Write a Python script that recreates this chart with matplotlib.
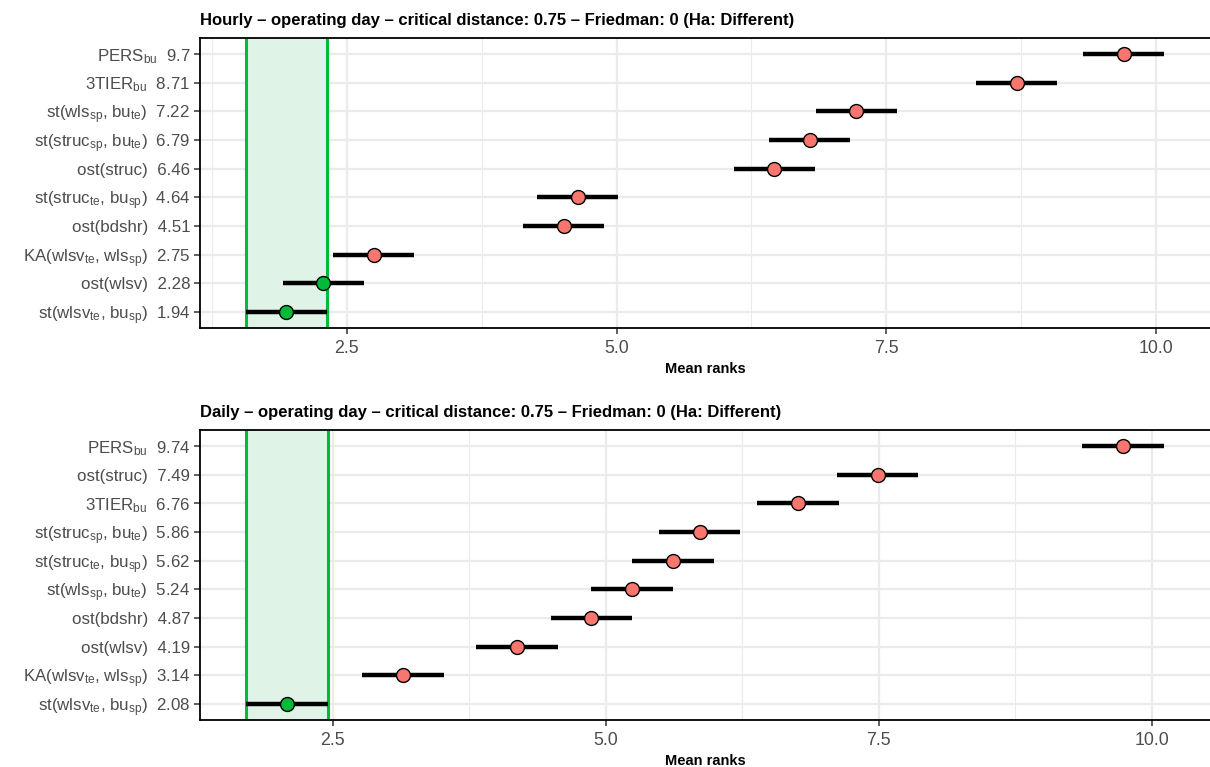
import matplotlib
matplotlib.use("Agg")
import matplotlib.pyplot as plt
from matplotlib.ticker import MultipleLocator

plt.rcParams['font.family'] = ['Liberation Sans', 'DejaVu Sans']
plt.rcParams['mathtext.fontset'] = 'custom'
plt.rcParams['mathtext.rm'] = 'Liberation Sans'
plt.rcParams['mathtext.default'] = 'regular'

cd = 0.75

hourly_names = [r"PERS$_{bu}$", r"3TIER$_{bu}$", r"st(wls$_{sp}$, bu$_{te}$)",
                r"st(struc$_{sp}$, bu$_{te}$)", "ost(struc)", r"st(struc$_{te}$, bu$_{sp}$)",
                "ost(bdshr)", r"KA(wlsv$_{te}$, wls$_{sp}$)", "ost(wlsv)",
                r"st(wlsv$_{te}$, bu$_{sp}$)"]
hourly_ranks = [9.7, 8.71, 7.22, 6.79, 6.46, 4.64, 4.51, 2.75, 2.28, 1.94]

daily_names = [r"PERS$_{bu}$", "ost(struc)", r"3TIER$_{bu}$", r"st(struc$_{sp}$, bu$_{te}$)",
               r"st(struc$_{te}$, bu$_{sp}$)", r"st(wls$_{sp}$, bu$_{te}$)", "ost(bdshr)",
               "ost(wlsv)", r"KA(wlsv$_{te}$, wls$_{sp}$)", r"st(wlsv$_{te}$, bu$_{sp}$)"]
daily_ranks = [9.74, 7.49, 6.76, 5.86, 5.62, 5.24, 4.87, 4.19, 3.14, 2.08]

titles = ["Hourly \u2013 operating day \u2013 critical distance: 0.75 \u2013 Friedman: 0 (Ha: Different)",
          "Daily \u2013 operating day \u2013 critical distance: 0.75 \u2013 Friedman: 0 (Ha: Different)"]

RED = "#F8766D"
GREEN = "#00BA38"

fig = plt.figure(figsize=(12.1, 7.67), dpi=100)
boxes = [[0.1653, 0.5724, 0.8347, 0.3781], [0.1653, 0.0613, 0.8347, 0.3781]]

for box, names, ranks, title in zip(boxes, [hourly_names, daily_names],
                                    [hourly_ranks, daily_ranks], titles):
    ax = fig.add_axes(box)
    n = len(ranks)
    ypos = list(range(n, 0, -1))
    best = min(ranks)
    lo = best - cd / 2
    hi = max(ranks) + cd / 2
    pad = (hi - lo) * 0.05
    ax.set_xlim(lo - pad, hi + pad)
    ax.set_ylim(0.44, n + 0.56)

    ax.axvspan(best - cd / 2, best + cd / 2, color="#DFF3E7", zorder=1, lw=0)
    ax.axvline(best - cd / 2, color=GREEN, lw=2.2, zorder=2)
    ax.axvline(best + cd / 2, color=GREEN, lw=2.2, zorder=2)

    for y, r in zip(ypos, ranks):
        col = GREEN if r <= best + cd else RED
        ax.plot([r - cd / 2, r + cd / 2], [y, y], color="black", lw=3.2,
                solid_capstyle="butt", zorder=3)
        ax.plot(r, y, "o", ms=10, mfc=col, mec="black", mew=1, zorder=4)

    ax.set_yticks(ypos)
    ax.set_yticklabels([f"{nm}  {r:g}" for nm, r in zip(names, ranks)])
    ax.xaxis.set_major_locator(MultipleLocator(2.5))
    ax.xaxis.set_minor_locator(MultipleLocator(1.25))
    ax.xaxis.set_major_formatter(plt.FuncFormatter(lambda v, p: f"{v:.1f}"))
    ax.grid(True, which="major", color="#EBEBEB", lw=1.6, zorder=0)
    ax.grid(True, which="minor", axis="x", color="#EBEBEB", lw=0.8, zorder=0)
    ax.set_axisbelow(True)
    ax.tick_params(axis="both", which="major", labelcolor="#4D4D4D",
                   color="#333333", length=4, width=1.1)
    ax.tick_params(axis="x", which="major", labelsize=12.8, pad=5)
    ax.tick_params(axis="y", which="major", labelsize=12.2, pad=3)
    ax.tick_params(axis="x", which="minor", length=0)
    for s in ["left", "top", "bottom"]:
        ax.spines[s].set_linewidth(1.3)
        ax.spines[s].set_color("black")
    ax.spines["right"].set_visible(False)
    ax.set_xlabel("Mean ranks", fontsize=10.5, fontweight="bold", labelpad=3)
    ax.set_title(title, loc="left", fontsize=12, fontweight="bold", pad=9)

fig.savefig("out.png", dpi=100)
